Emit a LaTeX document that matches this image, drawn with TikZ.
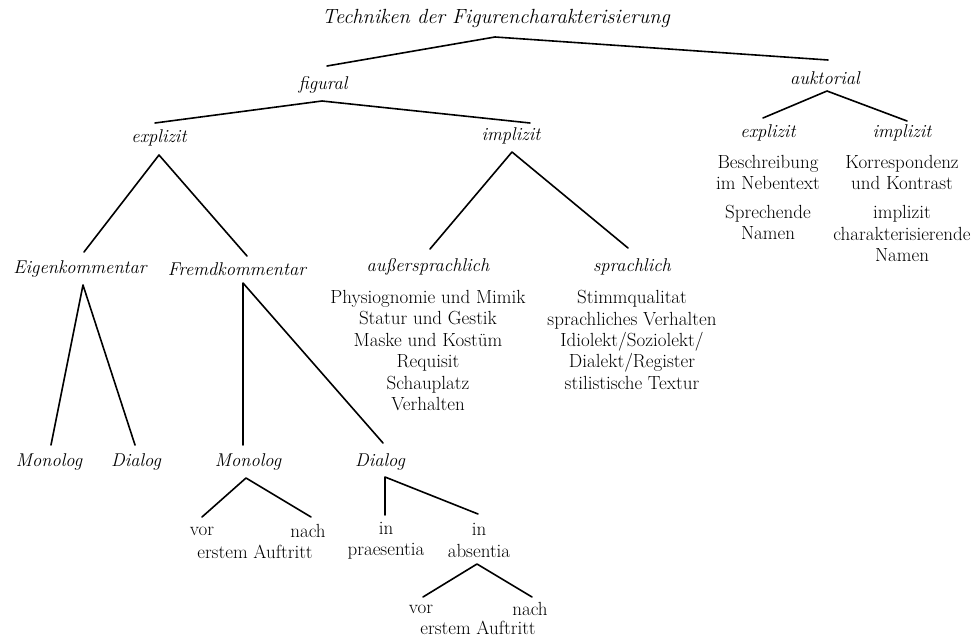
\documentclass[tikz,border=0pt]{standalone}
\usetikzlibrary{calc}
\begin{document}
\begin{tikzpicture}[x=1pt,y=-1pt,
  it/.style={font=\itshape\fontsize{18.5}{20}\selectfont, inner sep=0pt},
  ttl/.style={font=\itshape\fontsize{20.5}{22}\selectfont, inner sep=0pt},
  rm/.style={font=\fontsize{19}{21.4}\selectfont, align=center, inner sep=0pt},
  ln/.style={line width=1.6pt, line cap=round, line join=round}]
\useasboundingbox[fill=white] (0,0) rectangle (980,639);
% nodes
\node[ttl] (title) at (496,18) {Techniken der Figurencharakterisierung};
\node[it] (fig) at (323,85) {figural};
\node[it] (auk) at (825,78) {auktorial};
\node[it] (fexp) at (159,138) {explizit};
\node[it] (fimp) at (511,136) {implizit};
\node[it] (eig) at (80,269) {Eigenkommentar};
\node[it] (fre) at (237,269) {Fremdkommentar};
\node[it] (aus) at (428,267) {außersprachlich};
\node[it] (spr) at (632,267) {sprachlich};
\node[rm] (auslist) at (428,350.5) {Physiognomie und Mimik\\Statur und Gestik\\Maske und Kostüm\\Requisit\\Schauplatz\\Verhalten};
\node[rm] (sprlist) at (632,340) {Stimmqualitat\\sprachliches Verhalten\\Idiolekt/Soziolekt/\\Dialekt/Register\\stilistische Textur};
\node[it] (mono1) at (49,462) {Monolog};
\node[it] (dia1) at (136,462) {Dialog};
\node[it] (mono2) at (248,462) {Monolog};
\node[it] (dia2) at (380,462) {Dialog};
\node[rm] (vor1) at (202,531) {vor};
\node[rm] (nach1) at (308,531) {nach};
\node[rm] (ea1) at (255,552) {erstem Auftritt};
\node[rm] (inp) at (386,540.5) {in\\praesentia};
\node[rm] (ina) at (479,540.5) {in\\absentia};
\node[rm] (vor2) at (421,609) {vor};
\node[rm] (nach2) at (530,609) {nach};
\node[rm] (ea2) at (478,628) {erstem Auftritt};
\node[it] (aexp) at (768,133) {explizit};
\node[it] (aimp) at (902,133) {implizit};
\node[rm] (besch) at (768,172.5) {Beschreibung\\im Nebentext};
\node[rm] (sprn) at (768,222.5) {Sprechende\\Namen};
\node[rm] (korr) at (902,172.5) {Korrespondenz\\und Kontrast};
\node[rm] (implc) at (902,233.5) {implizit\\charakterisierende\\Namen};
% connectors
\draw[ln] ($(fig)+(4,-19)$) -- ($(title)+(-1,19)$) -- ($(auk)+(3,-18)$);
\draw[ln] ($(fexp)+(-4,-15)$) -- ($(fig)+(-1,16)$) -- ($(fimp)+(19,-13)$);
\draw[ln] ($(eig)+(4,-17)$) -- ($(fexp)+(0,17)$) -- ($(fre)+(10,-13)$);
\draw[ln] ($(aus)+(2,-18)$) -- ($(fimp)+(1,16)$) -- ($(spr)+(-4,-19)$);
\draw[ln] ($(mono1)+(2,-17)$) -- ($(eig)+(3,16)$) -- ($(dia1)+(-1,-17)$);
\draw[ln] ($(mono2)+(-5,-17)$) -- ($(fre)+(6,14)$) -- ($(dia2)+(3,-19)$);
\draw[ln] ($(vor1)+(0,-14)$) -- ($(mono2)+(-2,16)$) -- ($(nach1)+(3,-14)$);
\draw[ln] ($(inp)+(-1,-25.5)$) -- ($(dia2)+(5,15)$) -- ($(ina)+(-1,-26.5)$);
\draw[ln] ($(vor2)+(2,-12)$) -- ($(ina)+(-2,23.5)$) -- ($(nach2)+(2,-12)$);
\draw[ln] ($(aexp)+(-5,-15)$) -- ($(auk)+(2,13)$) -- ($(aimp)+(5,-12)$);
\end{tikzpicture}
\end{document}
